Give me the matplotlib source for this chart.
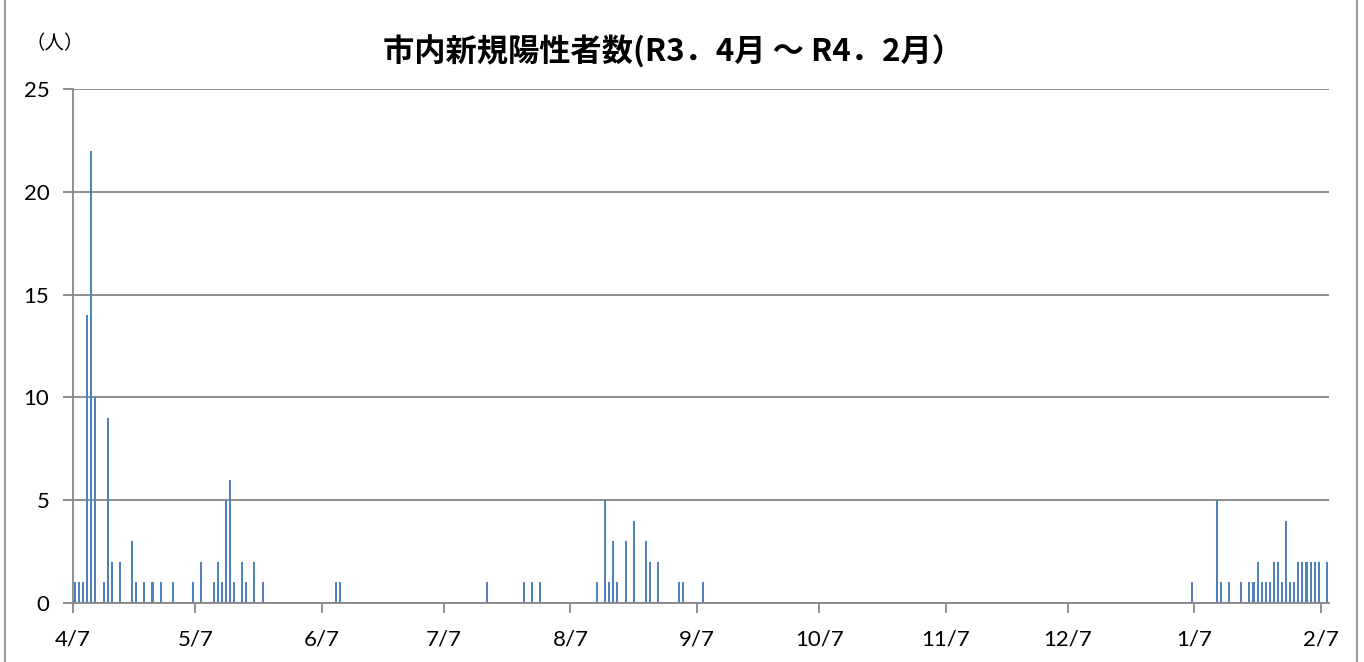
import matplotlib
matplotlib.use("Agg")
import matplotlib.pyplot as plt
from matplotlib.lines import Line2D
import pandas as pd

# daily new positive cases in the city (R3.4 - R4.2), only days with cases
dates = [
    "2021-04-07", "2021-04-08", "2021-04-09", "2021-04-10", "2021-04-11", "2021-04-12",
    "2021-04-14", "2021-04-15", "2021-04-16", "2021-04-18", "2021-04-21", "2021-04-22",
    "2021-04-24", "2021-04-26", "2021-04-28", "2021-05-01", "2021-05-06", "2021-05-08",
    "2021-05-11", "2021-05-12", "2021-05-13", "2021-05-14", "2021-05-15", "2021-05-16",
    "2021-05-18", "2021-05-19", "2021-05-21", "2021-05-23",
    "2021-06-10", "2021-06-11",
    "2021-07-17", "2021-07-26", "2021-07-28", "2021-07-30",
    "2021-08-13", "2021-08-15", "2021-08-16", "2021-08-17", "2021-08-18", "2021-08-20",
    "2021-08-22", "2021-08-25", "2021-08-26", "2021-08-28", "2021-09-02", "2021-09-03",
    "2021-09-08",
    "2022-01-06", "2022-01-12", "2022-01-13", "2022-01-15", "2022-01-18", "2022-01-20",
    "2022-01-21", "2022-01-22", "2022-01-23", "2022-01-24", "2022-01-25", "2022-01-26",
    "2022-01-27", "2022-01-28", "2022-01-29", "2022-01-30", "2022-01-31", "2022-02-01",
    "2022-02-02", "2022-02-03", "2022-02-04", "2022-02-05", "2022-02-06", "2022-02-08",
]
cases = [
    1, 1, 1, 14, 22, 10,
    1, 9, 2, 2, 3, 1,
    1, 1, 1, 1, 1, 2,
    1, 2, 1, 5, 6, 1,
    2, 1, 2, 1,
    1, 1,
    1, 1, 1, 1,
    1, 5, 1, 3, 1, 3,
    4, 3, 2, 2, 1, 1,
    1,
    1, 5, 1, 1, 1, 1,
    1, 2, 1, 1, 1, 2,
    2, 1, 4, 1, 1, 2,
    2, 2, 2, 2, 2, 2,
]
tick_dates = ["2021-04-07", "2021-05-07", "2021-06-07", "2021-07-07", "2021-08-07",
              "2021-09-07", "2021-10-07", "2021-11-07", "2021-12-07", "2022-01-07",
              "2022-02-07"]
tick_labels = ["4/7", "5/7", "6/7", "7/7", "8/7", "9/7", "10/7", "11/7", "12/7", "1/7", "2/7"]
start = pd.Timestamp("2021-04-07")
end = pd.Timestamp("2022-02-09")

day = (pd.to_datetime(dates) - start).days.to_numpy()
tick_pos = (pd.to_datetime(tick_dates) - start).days.to_numpy()

GRID = "#878787"
BAR = "#4F81BD"

fig = plt.figure(figsize=(13.64, 6.62), dpi=100)
ax = fig.add_axes([0.0535, 0.0891, 0.9208, 0.7765])

ax.bar(day + 0.5, cases, width=0.5, color=BAR, zorder=3)

ax.set_xlim(0, (end - start).days)
ax.set_ylim(0, 25)
ax.set_yticks([0, 5, 10, 15, 20, 25])
ax.set_xticks(tick_pos)
ax.set_xticklabels(tick_labels)

ax.yaxis.grid(True, color=GRID, linewidth=1.3, zorder=0)
ax.set_axisbelow(True)
for s in ["top", "right"]:
    ax.spines[s].set_visible(False)
for s in ["left", "bottom"]:
    ax.spines[s].set_color(GRID)
    ax.spines[s].set_linewidth(1.3)
    ax.spines[s].set_zorder(4)

ax.tick_params(axis="both", direction="out", length=7, width=1.3, color=GRID,
               labelsize=16, labelcolor="black")
ax.tick_params(axis="x", pad=12)
ax.tick_params(axis="y", pad=10)
for lab in ax.get_xticklabels() + ax.get_yticklabels():
    lab.set_family(["Lato", "DejaVu Sans"])

fig.text(0.4935, 0.922, "市内新規陽性者数(R3．4月 ～ R4．2月）", ha="center", va="center",
         fontsize=22.5, fontweight="bold", family=["Noto Sans CJK JP", "DejaVu Sans"])
fig.text(0.040, 0.934, "（人）", ha="center", va="center",
         fontsize=14, family=["Noto Sans CJK JP", "DejaVu Sans"])

# outer chart frame
fig.add_artist(Line2D([0.0037, 0.0037], [0, 1], transform=fig.transFigure,
                      color="#999999", linewidth=1.5))
fig.add_artist(Line2D([0.9949, 0.9949], [0, 1], transform=fig.transFigure,
                      color="#999999", linewidth=1.5))

fig.savefig("out.png", dpi=100)
